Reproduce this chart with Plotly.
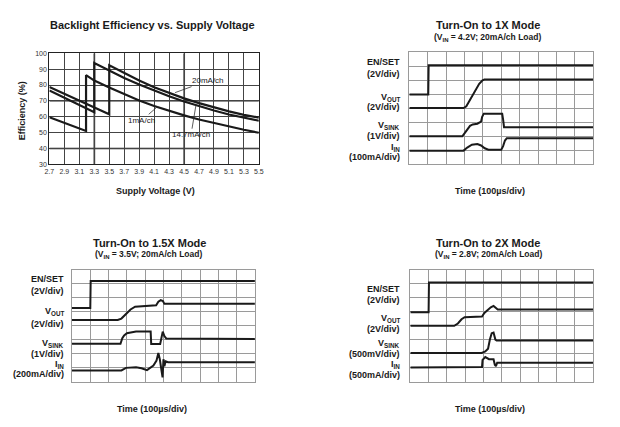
import plotly.graph_objects as go

# ---------------- Data: Backlight efficiency ----------------
v_20 = [2.7, 2.9, 3.1, 3.3, 3.5, 3.5, 3.7, 3.9, 4.1, 4.3, 4.5, 4.7, 4.9, 5.1, 5.3, 5.5]
eff_20 = [78.8, 74.5, 70.2, 65.9, 61.5, 92.4, 87.4, 82.8, 78.6, 75.0, 71.6, 68.6, 65.9, 63.4, 61.2, 59.5]

v_147 = [2.7, 2.9, 3.1, 3.3, 3.3, 3.5, 3.7, 3.9, 4.1, 4.3, 4.5, 4.7, 4.9, 5.1, 5.3, 5.5]
eff_147 = [76.6, 72.0, 67.5, 62.8, 93.8, 88.9, 84.4, 80.3, 76.5, 72.9, 69.6, 66.6, 63.9, 61.4, 59.3, 57.5]

v_1 = [2.7, 2.9, 3.1, 3.19, 3.19, 3.3, 3.5, 3.7, 3.9, 4.1, 4.3, 4.5, 4.7, 4.9, 5.1, 5.3, 5.5]
eff_1 = [59.7, 56.3, 52.9, 51.0, 86.2, 82.8, 78.4, 74.1, 70.3, 66.8, 63.7, 60.9, 58.3, 56.0, 53.8, 51.8, 49.9]

x_ticks = [2.7, 2.9, 3.1, 3.3, 3.5, 3.7, 3.9, 4.1, 4.3, 4.5, 4.7, 4.9, 5.1, 5.3, 5.5]
y_ticks = [30, 40, 50, 60, 70, 80, 90, 100]

# ---------------- Data: scope traces (time div, level div) ----------------
# Turn-On to 1X
en1_t = [0, 1.03, 1.05, 10]
en1_v = [4.98, 4.98, 7.07, 7.07]
vout1_t = [0, 2.95, 3.1, 3.3, 3.55, 3.8, 3.98, 4.08, 10]
vout1_v = [4.02, 4.02, 4.15, 4.6, 5.2, 5.75, 6.0, 6.05, 6.05]
vsink1_t = [0, 2.88, 3.05, 3.3, 3.45, 3.7, 3.9, 3.96, 4.05, 5.05, 5.1, 5.15, 10]
vsink1_v = [2.0, 2.0, 2.3, 2.75, 2.85, 2.9, 3.05, 3.4, 3.62, 3.62, 3.2, 2.65, 2.65]
iin1_t = [0, 2.95, 3.15, 3.4, 3.7, 3.9, 4.1, 4.3, 5.0, 5.1, 5.2, 5.3, 10]
iin1_v = [0.98, 0.98, 1.2, 1.4, 1.45, 1.35, 1.15, 1.05, 1.05, 1.3, 1.7, 1.87, 1.87]

# Turn-On to 1.5X
en2_t = [0, 1.0, 1.02, 10]
en2_v = [5.25, 5.25, 7.18, 7.18]
vout2_t = [0, 2.5, 2.7, 2.95, 3.2, 3.45, 4.0, 4.6, 4.72, 4.85, 4.97, 5.05, 10]
vout2_v = [4.4, 4.4, 4.5, 4.85, 5.15, 5.35, 5.4, 5.45, 5.7, 5.82, 5.75, 5.55, 5.55]
vsink2_t = [0, 2.65, 2.75, 2.85, 3.0, 3.5, 4.3, 4.33, 4.82, 4.9, 4.96, 5.05, 5.15, 10]
vsink2_v = [2.7, 2.7, 3.1, 3.3, 3.45, 3.57, 3.57, 2.68, 2.68, 3.3, 3.57, 3.25, 3.08, 3.05]
iin2_t = [0, 2.7, 2.95, 3.5, 3.8, 4.1, 4.45, 4.62, 4.72, 4.8, 4.88, 4.95, 5.0, 5.05, 5.12, 5.25, 10]
iin2_v = [0.8, 0.8, 0.98, 1.02, 0.95, 0.82, 1.15, 1.5, 2.05, 1.6, 0.9, 0.3, 1.6, 1.1, 1.45, 1.38, 1.38]

# Turn-On to 2X
en3_t = [0, 1.0, 1.02, 10]
en3_v = [4.95, 4.95, 7.08, 7.08]
vout3_t = [0, 2.4, 2.6, 2.8, 2.97, 3.5, 3.92, 4.05, 4.2, 4.4, 4.55, 4.68, 4.78, 10]
vout3_v = [3.98, 3.98, 4.15, 4.45, 4.6, 4.63, 4.65, 4.9, 5.1, 5.3, 5.4, 5.25, 5.15, 5.15]
vsink3_t = [0, 3.9, 4.1, 4.25, 4.35, 4.45, 4.55, 4.65, 4.72, 10]
vsink3_v = [2.05, 2.05, 2.15, 2.35, 3.0, 3.45, 3.5, 3.0, 2.93, 2.93]
iin3_t = [0, 3.7, 3.92, 3.95, 4.1, 4.3, 4.55, 4.62, 4.68, 4.75, 10]
iin3_v = [1.0, 1.02, 1.05, 1.55, 1.75, 1.6, 1.6, 1.2, 1.1, 1.35, 1.35]

# page body has an 8px margin; figure is sized to fit inside the window
OFF = 8
W, H = 620 - 2 * OFF, 427 - 2 * OFF
FONT = "Liberation Sans, Arial, sans-serif"


def px_x(p):
    return (p - OFF) / W


def px_y(p):
    return 1 - (p - OFF) / H


fig = go.Figure()

# Efficiency curves
for vx, ey in [(v_1, eff_1), (v_147, eff_147), (v_20, eff_20)]:
    fig.add_trace(go.Scatter(x=vx, y=ey, mode="lines", line=dict(color="#1a1a1a", width=2.2),
                             xaxis="x", yaxis="y", showlegend=False, hoverinfo="skip"))

# Scope traces
scopes = [
    ("x2", "y2", [(en1_t, en1_v), (vout1_t, vout1_v), (vsink1_t, vsink1_v), (iin1_t, iin1_v)]),
    ("x3", "y3", [(en2_t, en2_v), (vout2_t, vout2_v), (vsink2_t, vsink2_v), (iin2_t, iin2_v)]),
    ("x4", "y4", [(en3_t, en3_v), (vout3_t, vout3_v), (vsink3_t, vsink3_v), (iin3_t, iin3_v)]),
]
for xa, ya, trs in scopes:
    for tt, vv in trs:
        fig.add_trace(go.Scatter(x=tt, y=vv, mode="lines", line=dict(color="#1a1a1a", width=2),
                                 xaxis=xa, yaxis=ya, showlegend=False, hoverinfo="skip"))

scope_axis = dict(range=[0, 10], dtick=1, tick0=0, showticklabels=False, ticks="",
                  showgrid=True, gridcolor="#9a9a9a", gridwidth=1, zeroline=False,
                  showline=True, linecolor="#9a9a9a", linewidth=1, mirror=True, fixedrange=True)
scope_yaxis = dict(scope_axis, range=[0, 8])

fig.update_layout(
    width=W, height=H, margin=dict(l=0, r=0, t=0, b=0),
    paper_bgcolor="white", plot_bgcolor="white",
    font=dict(family=FONT, color="#1a1a1a"),
    xaxis=dict(domain=[px_x(45), px_x(258)], range=[2.7, 5.5], tickvals=x_ticks,
               ticktext=[f"{v:.1f}" for v in x_ticks], tickfont=dict(size=7, color="#333"),
               showgrid=True, gridcolor="#444", gridwidth=1, zeroline=False, ticks="",
               showline=True, linecolor="#222", linewidth=1.2, mirror=True, anchor="y"),
    yaxis=dict(domain=[px_y(163), px_y(50)], range=[30, 100], tickvals=y_ticks,
               tickfont=dict(size=7, color="#333"), showgrid=True, gridcolor="#444", gridwidth=1,
               zeroline=False, ticks="", showline=True, linecolor="#222", linewidth=1.2,
               mirror=True, anchor="x"),
    xaxis2=dict(scope_axis, domain=[px_x(411), px_x(598)], anchor="y2"),
    yaxis2=dict(scope_yaxis, domain=[px_y(163), px_y(49)], anchor="x2"),
    xaxis3=dict(scope_axis, domain=[px_x(68), px_x(254)], anchor="y3"),
    yaxis3=dict(scope_yaxis, domain=[px_y(384), px_y(270)], anchor="x3"),
    xaxis4=dict(scope_axis, domain=[px_x(412), px_x(598)], anchor="y4"),
    yaxis4=dict(scope_yaxis, domain=[px_y(384), px_y(270)], anchor="x4"),
)

# heavier grid lines seen in the efficiency plot
for xv in [3.3, 4.5]:
    fig.add_shape(type="line", xref="x", yref="y", x0=xv, x1=xv, y0=30, y1=100,
                  line=dict(color="#7a7a7a", width=2), layer="below")
for yv in [40, 70]:
    fig.add_shape(type="line", xref="x", yref="y", x0=2.7, x1=5.5, y0=yv, y1=yv,
                  line=dict(color="#222", width=1.3), layer="below")

ann = []


def text(x, y, s, size, xanchor="center", bold=True, angle=0):
    ann.append(dict(x=px_x(x), y=px_y(y), xref="paper", yref="paper", text=(f"<b>{s}</b>" if bold else s),
                    showarrow=False, xanchor=xanchor, yanchor="middle", textangle=angle,
                    font=dict(size=size, family=FONT, color="#1a1a1a")))


# Titles
text(150, 21, "Backlight Efficiency vs. Supply Voltage", 11)
text(491, 21.5, "Turn-On to 1X Mode", 11)
text(490, 33.5, "(V<sub>IN</sub> = 4.2V; 20mA/ch Load)", 8.5)
text(147, 243, "Turn-On to 1.5X Mode", 11)
text(146, 254.5, "(V<sub>IN</sub> = 3.5V; 20mA/ch Load)", 8.5)
text(491, 243, "Turn-On to 2X Mode", 11)
text(492, 254.5, "(V<sub>IN</sub> = 2.8V; 20mA/ch Load)", 8.5)

# Axis titles
text(152.5, 190.5, "Supply Voltage (V)", 9)
text(17, 108, "Efficiency (%)", 9, angle=-90)
text(493, 190.5, "Time (100µs/div)", 9)
text(149.5, 411.5, "Time (100µs/div)", 9)
text(493, 411.5, "Time (100µs/div)", 9)

# Scope channel labels
labels1 = [(59, "EN/SET"), (70.7, "(2V/div)"), (94.5, "V<sub>OUT</sub>"), (104.3, "(2V/div)"),
           (123, "V<sub>SINK</sub>"), (134.3, "(1V/div)"), (145.5, "I<sub>IN</sub>"), (156, "(100mA/div)")]
labels2 = [(280, "EN/SET"), (291.7, "(2V/div)"), (313, "V<sub>OUT</sub>"), (325.5, "(2V/div)"),
           (345, "V<sub>SINK</sub>"), (356, "(1V/div)"), (366.5, "I<sub>IN</sub>"), (376.7, "(200mA/div)")]
labels3 = [(290, "EN/SET"), (301, "(2V/div)"), (319.5, "V<sub>OUT</sub>"), (330, "(2V/div)"),
           (345, "V<sub>SINK</sub>"), (355.7, "(500mV/div)"), (367, "I<sub>IN</sub>"), (377.7, "(500mA/div)")]
for yy, s in labels1:
    text(404, yy, s, 9, xanchor="right")
for yy, s in labels2:
    text(61.5, yy, s, 9, xanchor="right")
for yy, s in labels3:
    text(404, yy, s, 9, xanchor="right")

# Curve labels with pointer lines
curve_labels = [("20mA/ch", 4.38, 75.2, 33, -12), ("14.7mA/ch", 4.66, 67.6, -5, 30),
                ("1mA/ch", 4.15, 66.6, -16, 14)]
for s, xv, yv, axp, ayp in curve_labels:
    ann.append(dict(x=xv, y=yv, xref="x", yref="y", text=s, showarrow=True, arrowhead=0,
                    arrowwidth=0.8, arrowcolor="#333", ax=axp, ay=ayp, standoff=0,
                    font=dict(size=8, family=FONT, color="#1a1a1a"), bgcolor="rgba(0,0,0,0)"))

fig.update_layout(annotations=ann)
fig.write_html("out.html")
